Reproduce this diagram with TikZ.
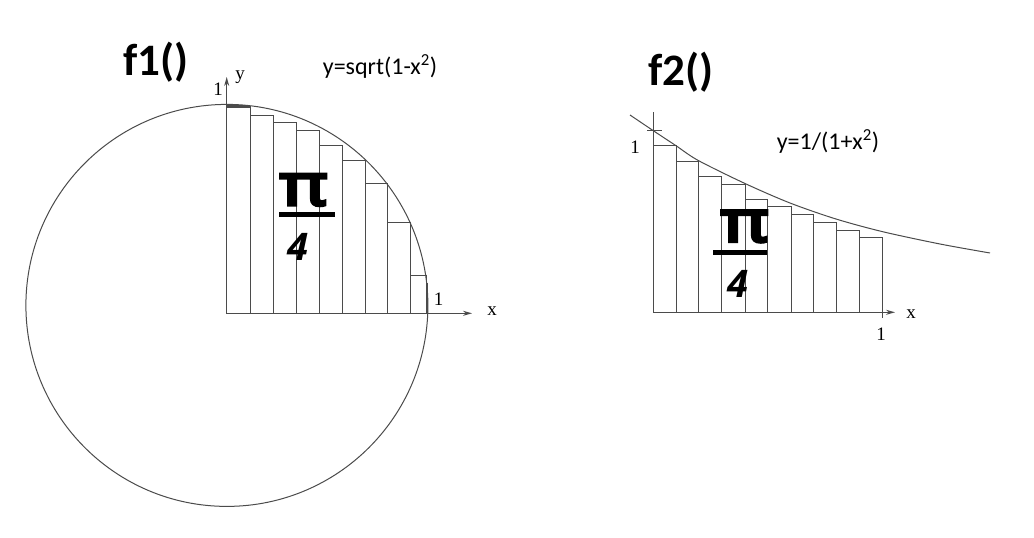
\documentclass[tikz,border=0pt]{standalone}
\usepackage{fontspec}
\setmainfont{Carlito}
\newfontfamily\serifax{Liberation Serif}
\newfontfamily\pifont[FakeBold=5]{Noto Sans}
\newfontfamily\fourfont{Open Sans}
\usetikzlibrary{arrows.meta}
\definecolor{ln}{RGB}{75,75,75}
\begin{document}
\begin{tikzpicture}[x=1pt,y=-1pt,
  strip/.style={draw=ln, line width=1pt},
  axisarrow/.style={draw=ln, line width=1pt, -{Stealth[length=9pt,width=5pt]}},
  axisline/.style={draw=ln, line width=1pt},
  ticks/.style={draw=ln, line width=2pt},
  title/.style={font=\fontsize{45}{45}\selectfont\bfseries, inner sep=0},
  formula/.style={font=\fontsize{24}{24}\selectfont, inner sep=0},
  axlab/.style={font=\serifax\fontsize{19}{19}\selectfont, inner sep=0},
  pisym/.style={font=\pifont\fontsize{58}{58}\selectfont, inner sep=0},
  four/.style={font=\fourfont\bfseries\itshape\fontsize{38}{38}\selectfont, inner sep=0},
  fracbar/.style={draw=black, line width=5pt},
]
\useasboundingbox[fill=white] (0,0) rectangle (1034,538);

% ---------- left: f1 ----------
\node[title] (t1) at (156,62) {f1()};
\node[formula] (fm1) at (380,66) {y=sqrt(1-x\textsuperscript{2})};

\draw[draw=ln, line width=1pt] (226.9,305.4) circle[radius=201];

\foreach \xl/\xr/\t in {226.7/250/106.7, 250/273.3/115.7, 273.3/296/122.7, 296/319.3/130,
  319.3/342.3/145.3, 342.3/365/160.7, 365/387.7/183.3, 387.7/410.7/222.3, 410.7/426.7/275.7}
  \draw[strip] (\xl,313.3) rectangle (\xr,\t);
\draw[draw=ln, line width=2.5pt] (226.7,106.7) -- (250,106.7);

\coordinate (O1) at (226.7,313.3);
\coordinate (Y1) at (226.7,77);
\coordinate (X1) at (472,313.3);
\draw[axisarrow] (O1) -- (Y1);
\draw[axisarrow] (O1) -- (X1);
\coordinate (T1a) at (426.7,283);
\coordinate (T1b) at (426.7,313.3);
\draw[ticks] (T1a) -- (T1b);

\node[axlab] (ly1) at (218,89) {1};
\node[axlab] (lyy) at (240,77) {y};
\node[axlab] (lx1) at (438.5,299) {1};
\node[axlab] (lxx) at (492,311) {x};

\node[pisym] (pi1) at (303.5,190) {\scalebox{1.25}[1]{π}};
\coordinate (b1l) at (279,214);
\coordinate (b1r) at (335,214);
\draw[fracbar] (b1l) -- (b1r);
\node[four] (f41) at (297.5,246.5) {4};

% ---------- right: f2 ----------
\node[title] (t2) at (681,72) {f2()};
\node[formula] (fm2) at (828,141) {y=1/(1+x\textsuperscript{2})};

\foreach \xl/\xr/\t in {653.3/676/145.7, 676/698.3/161, 698.3/721.7/176.7, 721.7/745/184,
  745/767.7/199, 767.7/791/206.7, 791/813.3/214.3, 813.3/836.7/222.3, 836.7/859.3/230, 859.3/882.7/237.3}
  \draw[strip] (\xl,312.3) rectangle (\xr,\t);

\coordinate (O2) at (653.3,312.3);
\coordinate (Y2) at (653.3,111.7);
\coordinate (X2) at (895,312.3);
\draw[axisline] (O2) -- (Y2);
\draw[axisarrow] (O2) -- (X2);
\coordinate (T2a) at (647,130.5);
\coordinate (T2b) at (662,130.5);
\draw[axisline] (T2a) -- (T2b);
\coordinate (T3a) at (882.7,312.3);
\coordinate (T3b) at (882.7,318);
\draw[axisline] (T3a) -- (T3b);

\draw[draw=ln, line width=1pt] plot[smooth] coordinates {(630,115) (653.3,130.7) (676,145.7) (698.3,160.5)
  (745,183.5) (790,203) (836,219) (882.7,231.7) (940,244) (990,253)};

\node[axlab] (ly2) at (635,147) {1};
\node[axlab] (lx2) at (881,334) {1};
\node[axlab] (lxx2) at (911,314) {x};

\node[pisym] (pi2) at (744.5,226.5) {\scalebox{1.25}[1]{π}};
\coordinate (b2l) at (713,252.7);
\coordinate (b2r) at (767,252.7);
\draw[fracbar] (b2l) -- (b2r);
\node[four] (f42) at (737.5,284) {4};
\end{tikzpicture}
\end{document}
